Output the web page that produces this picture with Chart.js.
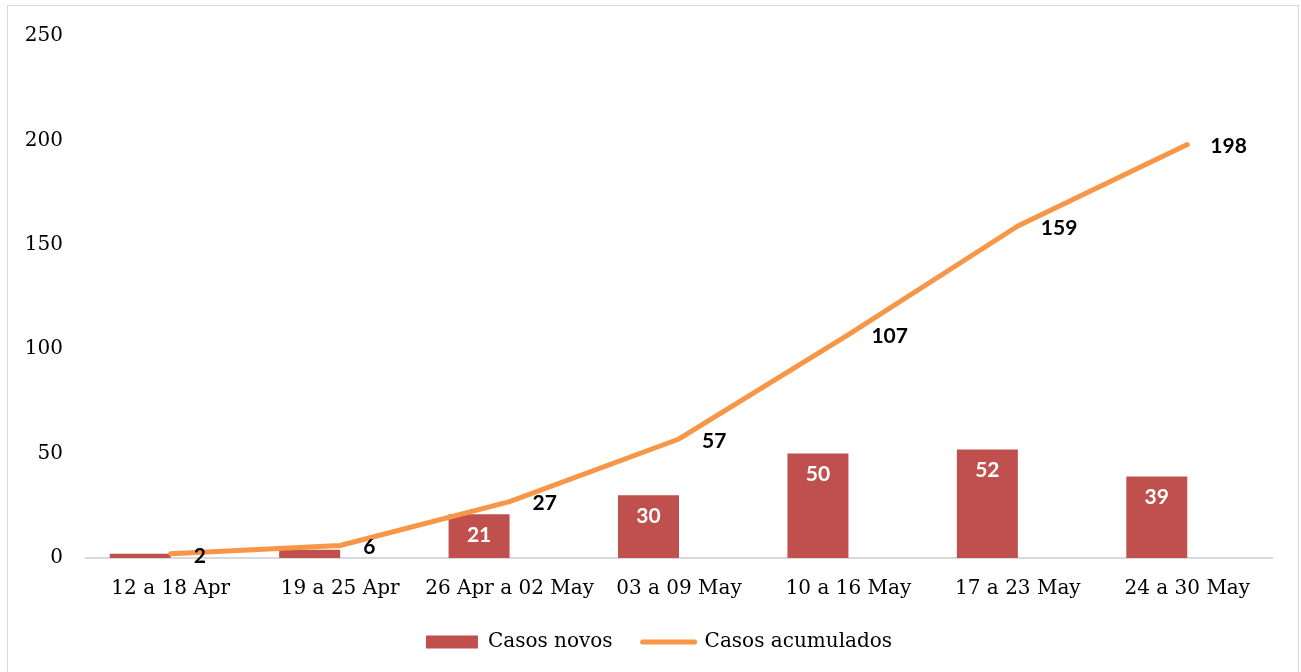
<!DOCTYPE html>
<html>
<head>
<meta charset="utf-8">
<script src="https://cdn.jsdelivr.net/npm/chart.js@4"></script>
<style>
  html, body { margin: 0; padding: 0; background: #fff; overflow: hidden; }
  #frame {
    position: absolute; left: 7px; top: 5px;
    width: 1290px; height: 700px;
    border: 1px solid #d9d9d9;
  }
  #chart { position: absolute; left: 0; top: 0; }
</style>
</head>
<body>
<div id="frame">
  <canvas id="chart" width="1290" height="700"></canvas>
</div>
<script>
// Weekly periods
const weeks = ['12 a 18 Apr', '19 a 25 Apr', '26 Apr a 02 May', '03 a 09 May',
               '10 a 16 May', '17 a 23 May', '24 a 30 May'];

// New cases per week (bars)
const casosNovos = [2, 4, 21, 30, 50, 52, 39];

// Cumulative cases (line)
const casosAcumulados = [2, 6, 27, 57, 107, 159, 198];

const yTicks = [0, 50, 100, 150, 200, 250];

const BAR_COLOR = '#c0504d';
const LINE_COLOR = '#f79646';
const SERIF = '"DejaVu Serif", "Liberation Serif", serif';
const LABEL_FONT = 'bold 21px Lato, "Open Sans", sans-serif';

// Draws the value labels the way the spreadsheet did
const valueLabels = {
  id: 'valueLabels',
  afterDatasetsDraw(chart) {
    const ctx = chart.ctx;
    ctx.save();
    ctx.font = LABEL_FONT;
    ctx.textBaseline = 'middle';

    // bar labels: white, inside the top of the bar
    const barMeta = chart.getDatasetMeta(0);
    ctx.fillStyle = '#ffffff';
    ctx.textAlign = 'center';
    barMeta.data.forEach((bar, i) => {
      if (casosNovos[i] < 10) return;
      ctx.fillText(String(casosNovos[i]), bar.x, bar.y + 21);
    });

    // line labels: black, right of the point
    const lineMeta = chart.getDatasetMeta(2);
    ctx.fillStyle = '#000000';
    ctx.textAlign = 'left';
    lineMeta.data.forEach((pt, i) => {
      ctx.fillText(String(casosAcumulados[i]), pt.x + 23, pt.y + 2);
    });
    ctx.restore();
  }
};

// Nudge the legend box up and to the right, like the original layout
const legendShift = {
  id: 'legendShift',
  afterLayout(chart) {
    const lg = chart.legend;
    if (!lg) return;
    lg.top -= 18;
    lg.bottom -= 18;
    lg.left += 19;
    lg.right += 19;
  }
};

const ctx = document.getElementById('chart').getContext('2d');
new Chart(ctx, {
  type: 'bar',
  data: {
    labels: weeks,
    datasets: [
      {
        type: 'bar',
        label: 'Casos novos',
        data: casosNovos,
        backgroundColor: BAR_COLOR,
        borderWidth: 0,
        barPercentage: 1,
        categoryPercentage: 0.72,
        order: 1
      },
      {
        // empty slot so the bars sit to the left of each category
        type: 'bar',
        label: '',
        data: casosNovos.map(() => null),
        backgroundColor: 'rgba(0,0,0,0)',
        barPercentage: 1,
        categoryPercentage: 0.72,
        order: 2
      },
      {
        type: 'line',
        label: 'Casos acumulados',
        data: casosAcumulados,
        borderColor: LINE_COLOR,
        backgroundColor: LINE_COLOR,
        borderWidth: 5,
        borderCapStyle: 'round',
        borderJoinStyle: 'round',
        pointRadius: 0,
        tension: 0,
        fill: false,
        order: 0
      }
    ]
  },
  options: {
    responsive: false,
    animation: false,
    layout: {
      padding: { top: 30, right: 26, bottom: 26, left: 0 }
    },
    plugins: {
      tooltip: { enabled: false },
      legend: {
        position: 'bottom',
        labels: {
          color: '#000',
          font: { family: SERIF, size: 20 },
          usePointStyle: true,
          pointStyleWidth: 52,
          boxHeight: 13,
          padding: 30,
          filter: item => item.text !== '',
          sort: (a, b) => a.datasetIndex - b.datasetIndex,
          generateLabels(chart) {
            const items = Chart.defaults.plugins.legend.labels.generateLabels(chart);
            items.forEach(item => {
              if (item.datasetIndex === 0) {
                item.pointStyle = 'rect';
                item.fillStyle = BAR_COLOR;
                item.strokeStyle = BAR_COLOR;
                item.lineWidth = 0;
              } else if (item.datasetIndex === 2) {
                item.pointStyle = 'line';
                item.strokeStyle = LINE_COLOR;
                item.fillStyle = LINE_COLOR;
                item.lineWidth = 5;
                item.lineCap = 'round';
              }
            });
            return items;
          }
        }
      }
    },
    scales: {
      x: {
        grid: { display: false, drawTicks: false },
        border: { display: true, color: '#d9d9d9', width: 2 },
        ticks: {
          color: '#000',
          font: { family: SERIF, size: 20 },
          padding: 19,
          maxRotation: 0,
          autoSkip: false
        }
      },
      y: {
        min: 0,
        max: 250,
        afterFit(scale) {
          scale.width = 78;
          scale.paddingTop = 0;
        },
        afterBuildTicks(scale) { scale.ticks = yTicks.map(v => ({ value: v })); },
        grid: { display: false, drawTicks: false },
        border: { display: false },
        ticks: {
          color: '#000',
          font: { family: SERIF, size: 20 },
          padding: 23
        }
      }
    }
  },
  plugins: [valueLabels, legendShift]
});
</script>
</body>
</html>
